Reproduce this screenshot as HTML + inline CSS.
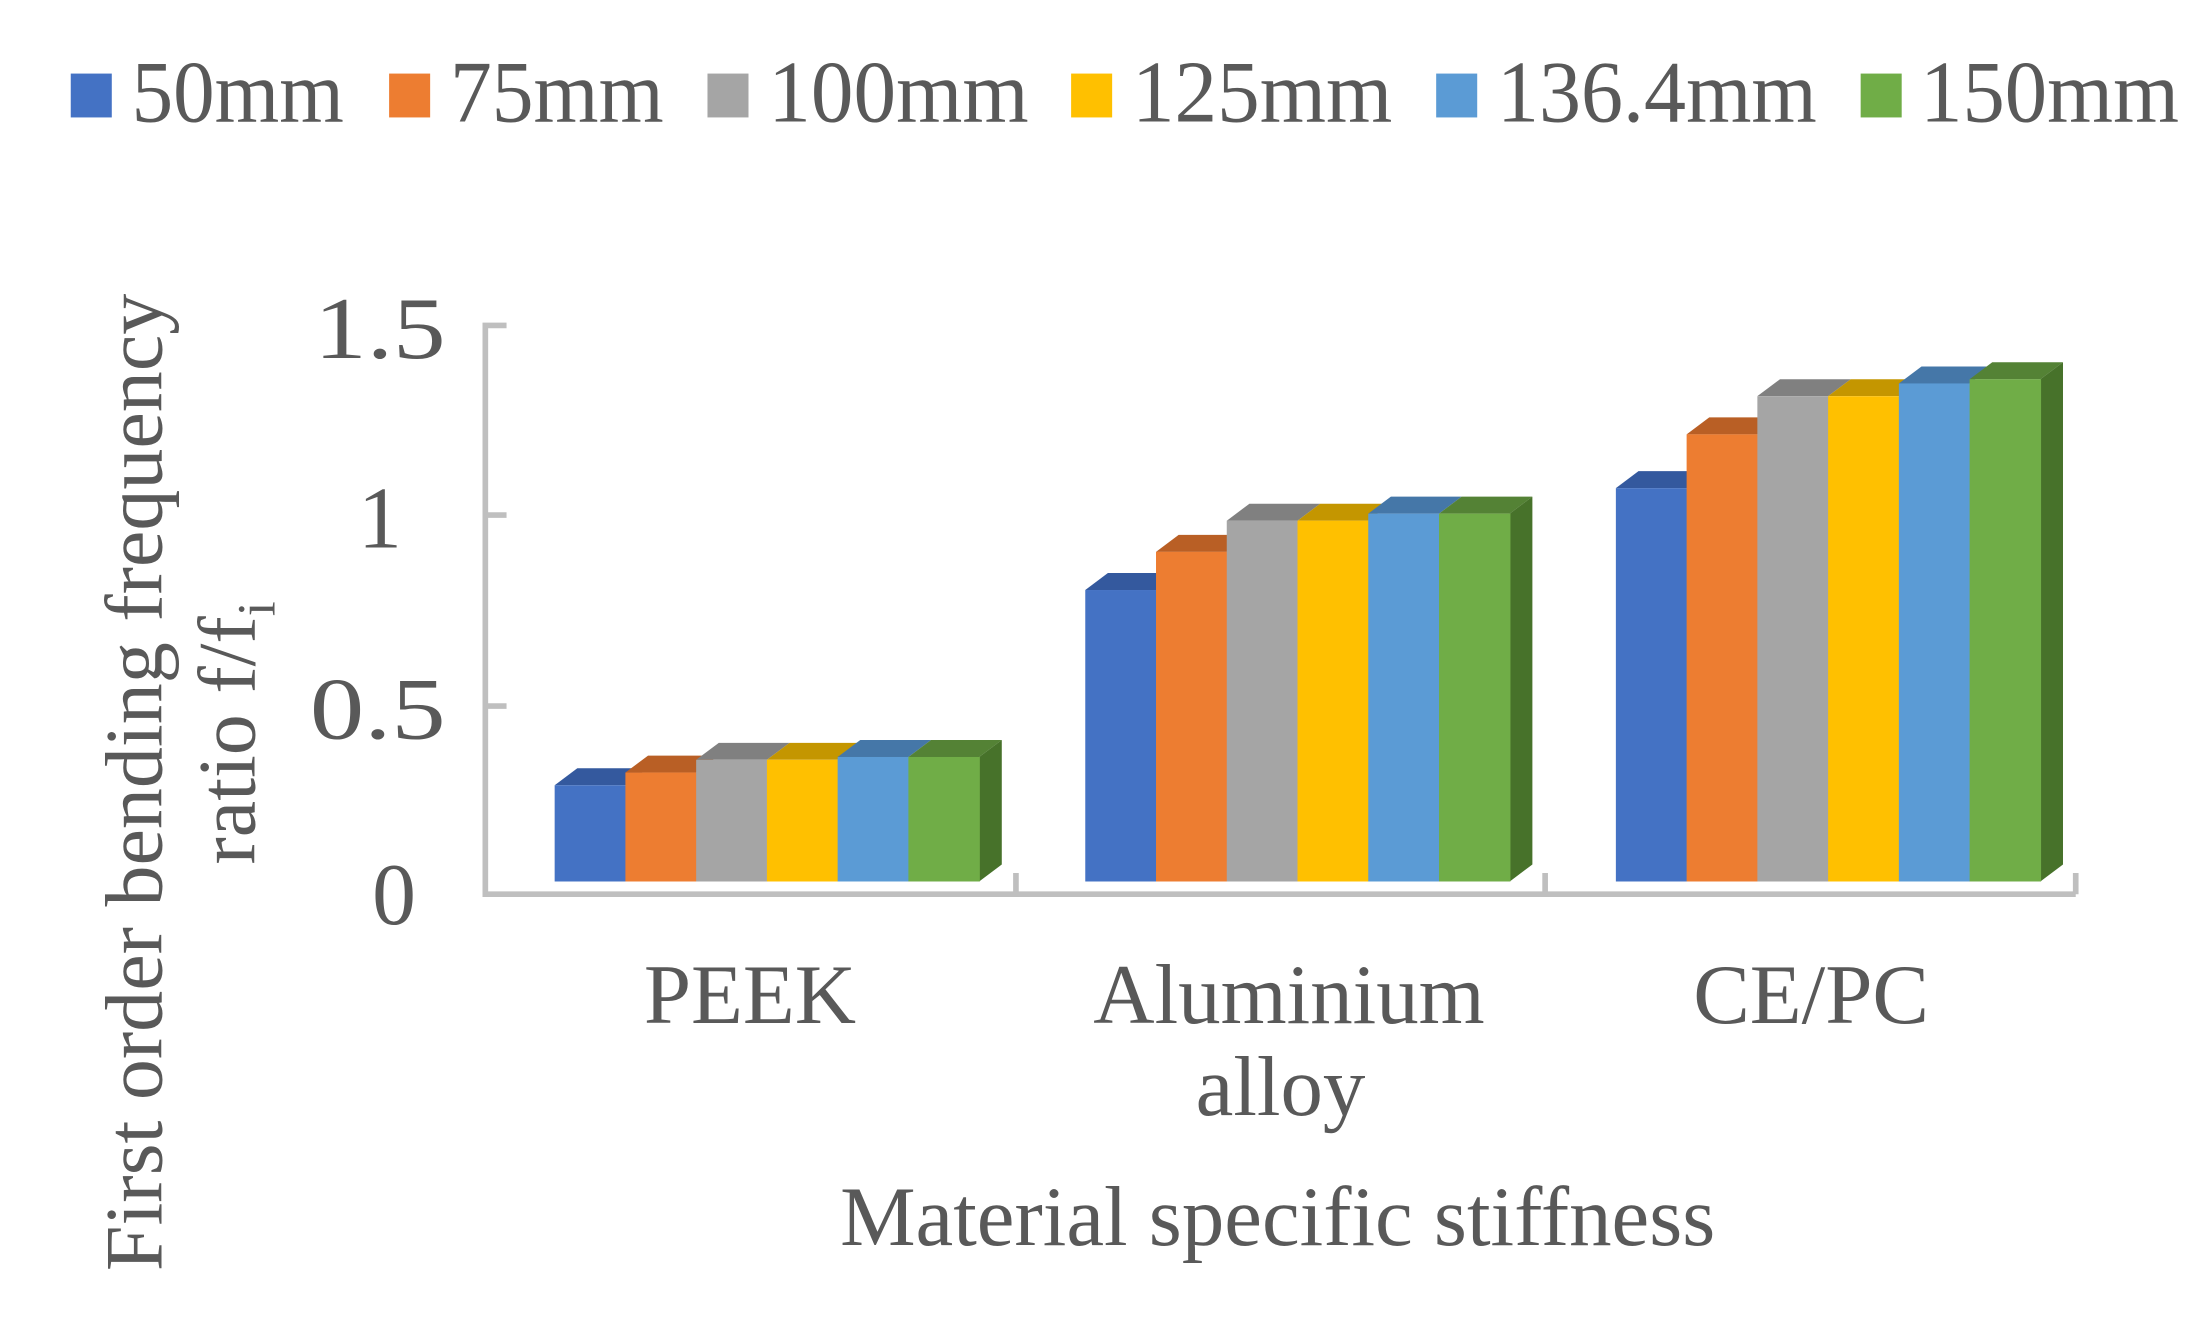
<!DOCTYPE html>
<html><head><meta charset="utf-8"><style>html,body{margin:0;padding:0;background:#fff}svg{display:block}</style></head>
<body>
<svg width="2196" height="1332" viewBox="0 0 1552 941.4" preserveAspectRatio="none" xmlns="http://www.w3.org/2000/svg" font-family="'Liberation Serif', serif" fill="#595959">
<rect width="1552" height="941.4" fill="#fff"/>
<g font-size="62">
<rect x="50" y="52" width="29" height="31" fill="#4472C4"/><text x="93" y="86" textLength="150" lengthAdjust="spacingAndGlyphs">50mm</text>
<rect x="275" y="52" width="29" height="31" fill="#ED7D31"/><text x="318" y="86" textLength="151" lengthAdjust="spacingAndGlyphs">75mm</text>
<rect x="500" y="52" width="29" height="31" fill="#A5A5A5"/><text x="543" y="86" textLength="184" lengthAdjust="spacingAndGlyphs">100mm</text>
<rect x="757" y="52" width="29" height="31" fill="#FFC000"/><text x="800" y="86" textLength="184" lengthAdjust="spacingAndGlyphs">125mm</text>
<rect x="1015" y="52" width="29" height="31" fill="#5B9BD5"/><text x="1058" y="86" textLength="226" lengthAdjust="spacingAndGlyphs">136.4mm</text>
<rect x="1315" y="52" width="29" height="31" fill="#70AD47"/><text x="1357" y="86" textLength="183" lengthAdjust="spacingAndGlyphs">150mm</text>
</g>
<g stroke="#BFBFBF" stroke-width="4" fill="none">
<polyline points="358,230 343,230 343,632 1467,632"/>
<line x1="343" y1="364" x2="358" y2="364"/>
<line x1="343" y1="499" x2="358" y2="499"/>
<line x1="718" y1="632" x2="718" y2="617"/>
<line x1="1092" y1="632" x2="1092" y2="617"/>
<line x1="1467" y1="632" x2="1467" y2="617"/>
</g>
<g font-size="62">
<text x="222" y="253" textLength="93" lengthAdjust="spacingAndGlyphs">1.5</text>
<text x="284" y="387" text-anchor="end">1</text>
<text x="219" y="522" textLength="96" lengthAdjust="spacingAndGlyphs">0.5</text>
<text x="263" y="653">0</text>
</g>
<g id="bars"></g>
<script>
(function(){
var ns="http://www.w3.org/2000/svg";
var g=document.getElementById("bars");
var front=["#4472C4","#ED7D31","#A5A5A5","#FFC000","#5B9BD5","#70AD47"];
var top_=["#34599E","#B95F25","#808080","#C49600","#4577A8","#548235"];
var groups=[[392,[555,546,537,537,535,535]],[767,[417,390,368,368,363,363]],[1142,[345,307,280,280,271,268]]];
var base=623,dx=16,dy=12,w=50;
function poly(pts,c){var p=document.createElementNS(ns,"polygon");p.setAttribute("points",pts);p.setAttribute("fill",c);g.appendChild(p);}
groups.forEach(function(gr){
 var x0=gr[0];
 for(var i=0;i<6;i++){
  var x=x0+i*w,t=gr[1][i];
  poly(x+","+t+" "+(x+dx)+","+(t-dy)+" "+(x+w+dx)+","+(t-dy)+" "+(x+w)+","+t,top_[i]);
  if(i==5) poly((x+w)+","+t+" "+(x+w+dx)+","+(t-dy)+" "+(x+w+dx)+","+(base-dy)+" "+(x+w)+","+base,"#47722A");
  var r=document.createElementNS(ns,"rect");r.setAttribute("x",x);r.setAttribute("y",t);r.setAttribute("width",w+0.5);r.setAttribute("height",base-t);r.setAttribute("fill",front[i]);g.appendChild(r);
 }
});
})();
</script>
<g font-size="60" text-anchor="middle">
<text x="530" y="723">PEEK</text>
<text x="911" y="723">Aluminium</text>
<text x="905" y="788">alloy</text>
<text x="1280" y="723">CE/PC</text>
<text x="903" y="880">Material specific stiffness</text>
</g>
<g font-size="58" text-anchor="middle">
<text transform="translate(114,553) rotate(-90)">First order bending frequency</text>
<text transform="translate(180,518) rotate(-90)">ratio f/f<tspan font-size="38" dy="14">i</tspan></text>
</g>
</svg>
</body></html>
